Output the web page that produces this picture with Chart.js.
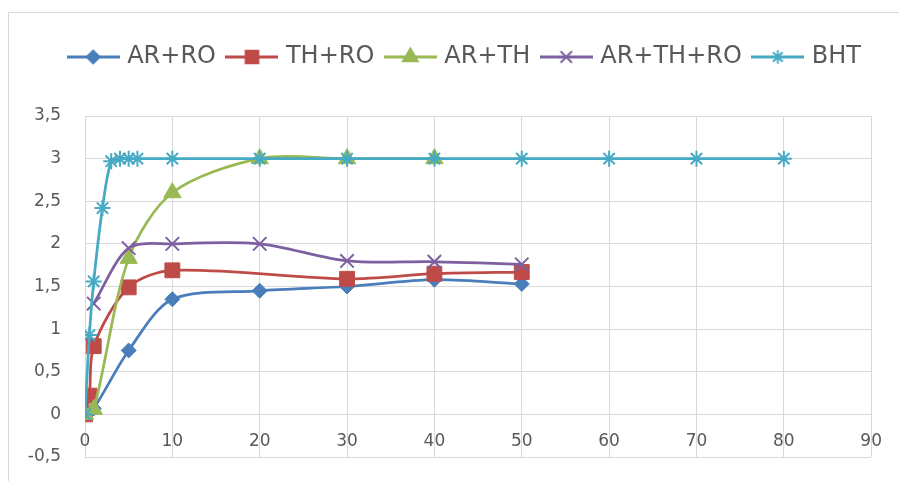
<!DOCTYPE html>
<html>
<head>
<meta charset="utf-8">
<script src="https://cdn.jsdelivr.net/npm/chart.js@4"></script>
<style>
  html, body { margin: 0; padding: 0; background: #fff; }
  #wrap { position: relative; width: 899px; height: 481px; overflow: hidden; }
  #frame { position: absolute; left: 8px; top: 12px; width: 1000px; height: 1000px; border: 1px solid #d9d9d9; }
  canvas { position: absolute; left: 0; top: 0; }
</style>
</head>
<body>
<div id="wrap">
  <div id="frame"></div>
  <canvas id="myChart" width="899" height="481"></canvas>
</div>
<script>
// series names
const seriesNames = ['AR+RO', 'TH+RO', 'AR+TH', 'AR+TH+RO', 'BHT'];

// values
const arRoX = [0, 1, 5, 10, 20, 30, 40, 50];
const arRoY = [0, 0.07, 0.75, 1.35, 1.45, 1.5, 1.58, 1.53];

const thRoX = [0, 0.5, 1, 5, 10, 30, 40, 50];
const thRoY = [0, 0.22, 0.8, 1.49, 1.69, 1.59, 1.65, 1.67];

const arThX = [0, 1, 5, 10, 20, 30, 40];
const arThY = [0, 0.06, 1.83, 2.6, 3, 3, 3];

const arThRoX = [1, 5, 10, 20, 30, 40, 50];
const arThRoY = [1.3, 1.95, 2.0, 2.0, 1.8, 1.79, 1.76];

const bhtX = [0, 0.5, 1, 2, 3, 4, 5, 6, 10, 20, 30, 40, 50, 60, 70, 80];
const bhtY = [0, 0.93, 1.56, 2.42, 2.97, 3, 3, 3, 3, 3, 3, 3, 3, 3, 3, 3];

// axis ranges
const xMin = 0, xMax = 90, xStep = 10;
const yMin = -0.5, yMax = 3.5, yStep = 0.5;

const colors = ['#4a7ebb', '#be4b48', '#98b954', '#7d60a0', '#46aac5'];
const styles = ['rectRot', 'rect', 'triangle', 'crossRot', 'star'];
const radii = [7.5, 10.5, 10, 9.5, 8];

function toPoints(xs, ys) {
    let pts = [];
    for (let i = 0; i < xs.length; i += 1) {
        pts.push({x: xs[i], y: ys[i]});
    }
    return pts;
}

const allX = [arRoX, thRoX, arThX, arThRoX, bhtX];
const allY = [arRoY, thRoY, arThY, arThRoY, bhtY];

function legendIcon(i) {
    const c = document.createElement('canvas');
    c.width = 53;
    c.height = 24;
    const g = c.getContext('2d');
    g.strokeStyle = colors[i];
    g.fillStyle = colors[i];
    g.lineWidth = 3;
    g.beginPath();
    g.moveTo(0, 12);
    g.lineTo(53, 12);
    g.stroke();
    g.lineWidth = 2;
    Chart.helpers.drawPoint(g, {pointStyle: styles[i], radius: radii[i] * 0.85, borderWidth: 2, rotation: 0}, 26.5, 12);
    return c;
}

const datasets = seriesNames.map(function (name, i) {
    return {
        label: name,
        data: toPoints(allX[i], allY[i]),
        borderColor: colors[i],
        backgroundColor: colors[i],
        borderWidth: 2.75,
        tension: 0.3,
        pointStyle: styles[i],
        pointRadius: radii[i],
        pointBorderWidth: (styles[i] === 'crossRot' || styles[i] === 'star') ? 2 : 1,
        pointBackgroundColor: colors[i],
        pointBorderColor: colors[i],
        order: seriesNames.length - i
    };
});

const legendGap = {
    id: 'legendGap',
    beforeInit(chart) {
        const fit = chart.legend.fit;
        chart.legend.fit = function () {
            fit.bind(chart.legend)();
            this.height += 37;
        };
    }
};

const ctx = document.getElementById('myChart').getContext('2d');
const myChart = new Chart(ctx, {
    type: 'line',
    data: { datasets: datasets },
    plugins: [legendGap],
    options: {
        responsive: false,
        animation: false,
        layout: { padding: { left: 8, right: 24, top: 31, bottom: 24 } },
        plugins: {
            tooltip: { enabled: false },
            legend: {
                align: 'end',
                labels: {
                    usePointStyle: true,
                    pointStyleWidth: 44,
                    padding: 14,
                    color: '#595959',
                    font: { family: 'DejaVu Sans', size: 24 },
                    sort: function (a, b) { return a.datasetIndex - b.datasetIndex; },
                    generateLabels: function (chart) {
                        const items = Chart.defaults.plugins.legend.labels.generateLabels(chart);
                        items.forEach(function (it) {
                            it.pointStyle = legendIcon(it.datasetIndex);
                        });
                        return items;
                    }
                }
            }
        },
        scales: {
            x: {
                type: 'linear',
                position: { y: 0 },
                min: xMin,
                max: xMax,
                grid: { color: '#d9d9d9', drawTicks: false },
                border: { display: false },
                ticks: {
                    stepSize: xStep,
                    padding: 17,
                    color: '#595959',
                    font: { family: 'DejaVu Sans', size: 17 }
                }
            },
            y: {
                min: yMin,
                max: yMax,
                grid: { color: '#d9d9d9', drawTicks: false },
                border: { display: false },
                ticks: {
                    stepSize: yStep,
                    padding: 24,
                    color: '#595959',
                    font: { family: 'DejaVu Sans', size: 17 },
                    callback: function (v) { return String(Math.round(v * 10) / 10).replace('.', ','); }
                },
                afterFit: function (scale) {
                    scale.width = 77;
                    scale.paddingTop = 10;
                    scale.paddingBottom = 10;
                }
            }
        }
    }
});
</script>
</body>
</html>
